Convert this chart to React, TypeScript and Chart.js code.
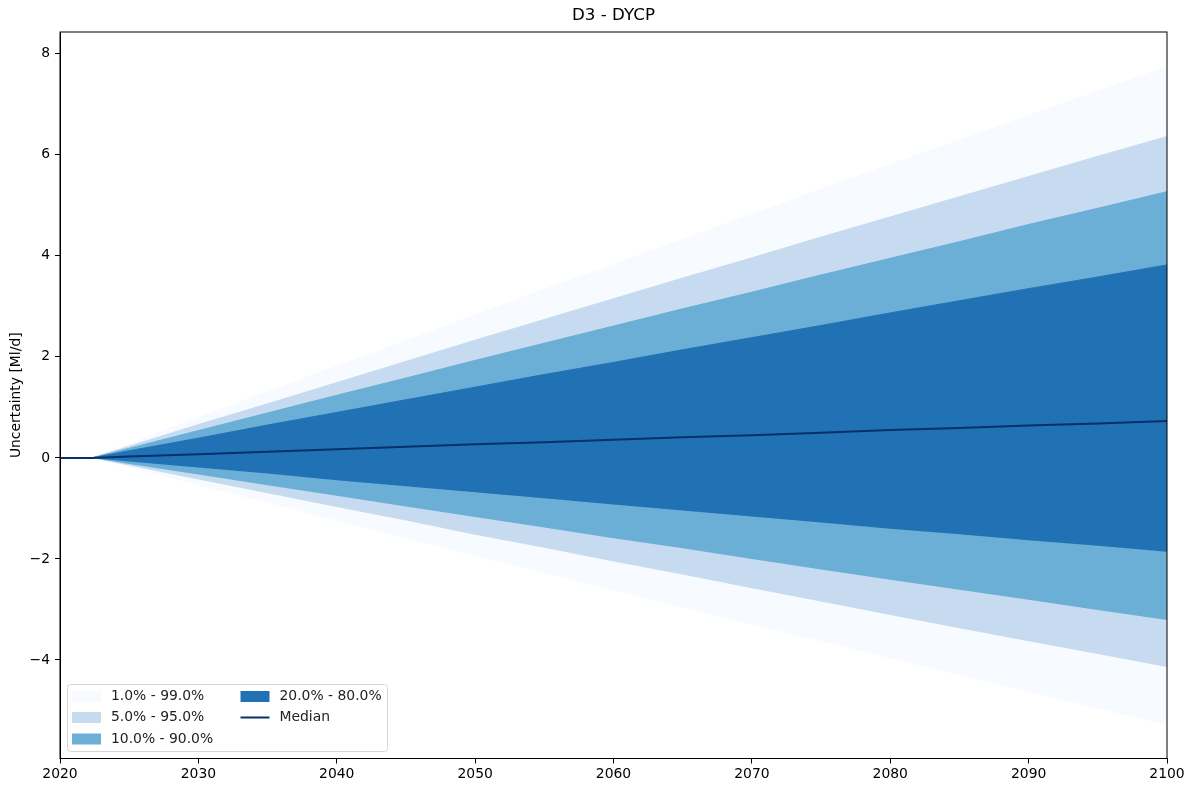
import React, { useEffect, useRef } from 'react';
import { Chart, registerables } from 'chart.js';

Chart.register(...registerables);

// years of the projection (flat until the fan opens around 2022.3)
const years = [2020, 2022.3, 2025, 2030, 2035, 2040, 2045, 2050, 2055, 2060, 2065, 2070, 2075, 2080, 2085, 2090, 2095, 2100];

const p99 = [0, 0, 0.28, 0.8, 1.31, 1.82, 2.32, 2.83, 3.34, 3.83, 4.33, 4.82, 5.32, 5.81, 6.29, 6.78, 7.26, 7.74];
const p95 = [0, 0, 0.23, 0.66, 1.07, 1.49, 1.91, 2.33, 2.74, 3.15, 3.56, 3.96, 4.37, 4.77, 5.17, 5.57, 5.97, 6.36];
const p90 = [0, 0, 0.19, 0.54, 0.89, 1.24, 1.58, 1.93, 2.27, 2.61, 2.95, 3.28, 3.62, 3.95, 4.28, 4.62, 4.94, 5.27];
const p80 = [0, 0, 0.14, 0.39, 0.65, 0.9, 1.15, 1.4, 1.65, 1.89, 2.14, 2.38, 2.62, 2.87, 3.11, 3.35, 3.58, 3.82];
const median = [0, 0, 0.03, 0.07, 0.12, 0.17, 0.22, 0.27, 0.31, 0.36, 0.41, 0.45, 0.5, 0.55, 0.59, 0.64, 0.68, 0.73];
const p20 = [0, 0, -0.07, -0.19, -0.31, -0.44, -0.56, -0.68, -0.8, -0.92, -1.04, -1.16, -1.28, -1.4, -1.51, -1.63, -1.74, -1.86];
const p10 = [0, 0, -0.12, -0.33, -0.54, -0.75, -0.96, -1.17, -1.38, -1.59, -1.79, -2.0, -2.21, -2.41, -2.61, -2.81, -3.01, -3.21];
const p05 = [0, 0, -0.15, -0.43, -0.7, -0.97, -1.24, -1.52, -1.78, -2.05, -2.31, -2.58, -2.84, -3.11, -3.37, -3.63, -3.88, -4.14];
const p01 = [0, 0, -0.19, -0.54, -0.89, -1.24, -1.59, -1.94, -2.28, -2.62, -2.96, -3.3, -3.63, -3.97, -4.3, -4.63, -4.96, -5.29];

const xTicks = [2020, 2030, 2040, 2050, 2060, 2070, 2080, 2090, 2100];
const yTicks = [-4, -2, 0, 2, 4, 6, 8];

const bandLabels = ['1.0% - 99.0%', '5.0% - 95.0%', '10.0% - 90.0%', '20.0% - 80.0%'];
const bandColors = ['#f7fbff', '#c6dbef', '#6baed6', '#2171b5'];
const medianColor = '#08306b';

const FONT = '"DejaVu Sans", Verdana, sans-serif';

const toPoints = (vals: number[]) => vals.map((v, i) => ({ x: years[i], y: v }));

const edge = (label: string, vals: number[], fill: number | false, color: string) => ({
  label,
  data: toPoints(vals),
  borderColor: fill === false ? 'transparent' : color,
  borderWidth: 1,
  backgroundColor: color,
  fill,
  pointRadius: 0,
  tension: 0,
});

// frame, title, y label and the in-plot legend
const decorations = {
  id: 'decorations',
  afterDraw(chart: Chart) {
    const { ctx, chartArea: a } = chart;
    ctx.save();
    ctx.strokeStyle = '#000';
    ctx.lineWidth = 1;
    ctx.strokeRect(a.left, a.top, a.right - a.left, a.bottom - a.top);

    ctx.fillStyle = '#000';
    ctx.font = `16.7px ${FONT}`;
    ctx.textAlign = 'center';
    ctx.textBaseline = 'middle';
    ctx.fillText('D3 - DYCP', (a.left + a.right) / 2, 16);

    ctx.font = `13.9px ${FONT}`;
    ctx.translate(16, (a.top + a.bottom) / 2);
    ctx.rotate(-Math.PI / 2);
    ctx.fillText('Uncertainty [Ml/d]', 0, 0);
    ctx.restore();

    // legend
    ctx.save();
    const bx = a.left + 7.5;
    const by = a.bottom - 74;
    const bw = 320;
    const bh = 67;
    ctx.fillStyle = 'rgba(255,255,255,0.8)';
    ctx.strokeStyle = '#d6d6d6';
    ctx.lineWidth = 1;
    ctx.beginPath();
    ctx.roundRect(bx, by, bw, bh, 3);
    ctx.fill();
    ctx.stroke();

    ctx.font = `13.9px ${FONT}`;
    ctx.textAlign = 'left';
    ctx.textBaseline = 'middle';
    const rows = [by + 12, by + 33, by + 54.5];
    const items = [
      { label: bandLabels[0], color: bandColors[0], col: 0, row: 0 },
      { label: bandLabels[1], color: bandColors[1], col: 0, row: 1 },
      { label: bandLabels[2], color: bandColors[2], col: 0, row: 2 },
      { label: bandLabels[3], color: bandColors[3], col: 1, row: 0 },
      { label: 'Median', color: medianColor, col: 1, row: 1, line: true },
    ];
    items.forEach((it) => {
      const px = it.col === 0 ? bx + 4.5 : bx + 173;
      const cy = rows[it.row];
      if (it.line) {
        ctx.strokeStyle = it.color;
        ctx.lineWidth = 2;
        ctx.beginPath();
        ctx.moveTo(px, cy);
        ctx.lineTo(px + 29, cy);
        ctx.stroke();
      } else {
        ctx.fillStyle = it.color;
        ctx.fillRect(px, cy - 5.5, 29, 11);
      }
      ctx.fillStyle = '#222';
      ctx.fillText(it.label, px + 39, cy);
    });
    ctx.restore();
  },
};

const App: React.FC = () => {
  const canvasRef = useRef<HTMLCanvasElement | null>(null);

  useEffect(() => {
    document.body.style.margin = '0';
    if (!canvasRef.current) return;
    const ctx = canvasRef.current.getContext('2d');
    if (!ctx) return;

    const tickFont = { family: FONT, size: 13.9 };

    const chart = new Chart(ctx, {
      type: 'line',
      data: {
        datasets: [
          {
            label: 'Median',
            data: toPoints(median),
            borderColor: medianColor,
            borderWidth: 2,
            pointRadius: 0,
            fill: false,
            tension: 0,
          },
          edge('p20', p20, false, bandColors[3]),
          edge(bandLabels[3], p80, 1, bandColors[3]),
          edge('p10', p10, false, bandColors[2]),
          edge(bandLabels[2], p90, 3, bandColors[2]),
          edge('p05', p05, false, bandColors[1]),
          edge(bandLabels[1], p95, 5, bandColors[1]),
          edge('p01', p01, false, bandColors[0]),
          edge(bandLabels[0], p99, 7, bandColors[0]),
        ] as any,
      },
      options: {
        animation: false,
        responsive: false,
        layout: { padding: { top: 32, right: 29, left: 0, bottom: 0 } },
        plugins: {
          legend: { display: false },
          title: { display: false },
          tooltip: { enabled: false },
        },
        scales: {
          x: {
            type: 'linear',
            min: 2020,
            max: 2100,
            afterFit: (s: any) => {
              s.height = 28.5;
            },
            afterBuildTicks: (s: any) => {
              s.ticks = xTicks.map((v) => ({ value: v }));
            },
            grid: { display: true, drawOnChartArea: false, drawTicks: true, tickLength: 5, color: '#000' },
            border: { display: true, color: '#000' },
            ticks: {
              font: tickFont,
              color: '#000',
              padding: 3,
              maxRotation: 0,
              callback: (v: any) => String(v),
            },
          },
          y: {
            type: 'linear',
            min: -5.95,
            max: 8.43,
            afterFit: (s: any) => {
              s.width = 60;
            },
            afterBuildTicks: (s: any) => {
              s.ticks = yTicks.map((v) => ({ value: v }));
            },
            grid: { display: true, drawOnChartArea: false, drawTicks: true, tickLength: 5, color: '#000' },
            border: { display: true, color: '#000' },
            ticks: {
              font: tickFont,
              color: '#000',
              padding: 5,
              callback: (v: any) => (v < 0 ? '\u2212' + Math.abs(v) : String(v)),
            },
          },
        },
      },
      plugins: [decorations],
    });

    return () => {
      chart.destroy();
    };
  }, []);

  return (
    <div style={{ width: 1196, height: 787, background: '#fff' }}>
      <canvas ref={canvasRef} width={1196} height={787} />
    </div>
  );
};

export default App;
